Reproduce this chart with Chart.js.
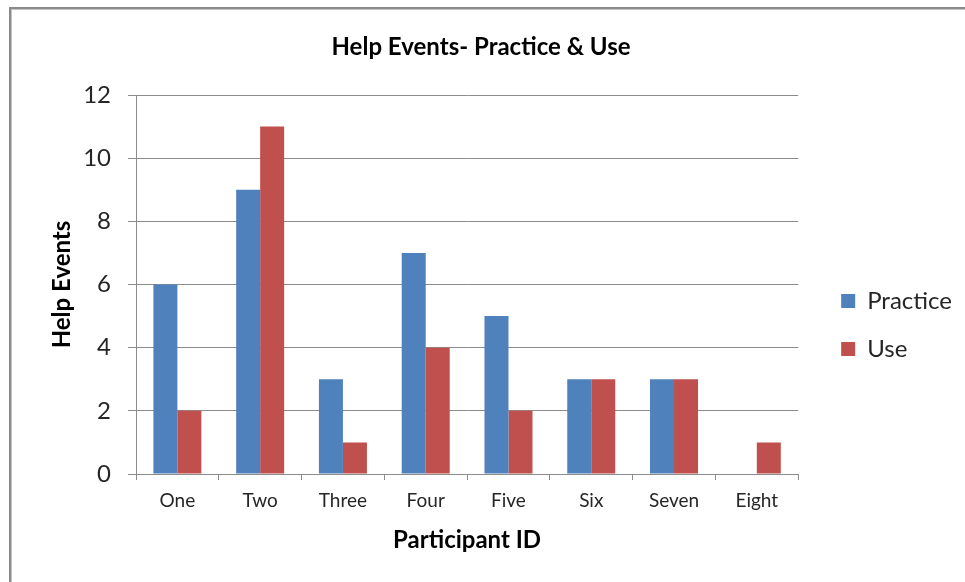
<!DOCTYPE html>
<html>
<head>
<meta charset="utf-8">
<script src="https://cdn.jsdelivr.net/npm/chart.js@4/dist/chart.umd.min.js"></script>
<style>
  html, body { margin: 0; padding: 0; background: #ffffff; overflow: hidden; }
  #wrap { position: relative; width: 965px; height: 582px; }
  #frame {
    position: absolute; left: 9px; top: 7px; width: 1000px; height: 640px;
    border: 2px solid #8a8a8a; box-shadow: inset 1px 1px 0 #c4c4c4;
  }
  #chart { position: absolute; left: 0; top: 0; }
</style>
</head>
<body>
<div id="wrap">
  <div id="frame"></div>
  <canvas id="chart" width="965" height="582"></canvas>
</div>
<script>
// Help events per participant
const categories = ['One', 'Two', 'Three', 'Four', 'Five', 'Six', 'Seven', 'Eight'];
const practiceEvents = [6, 9, 3, 7, 5, 3, 3, 0];
const useEvents = [2, 11, 1, 4, 2, 3, 3, 1];
const yTickValues = [0, 2, 4, 6, 8, 10, 12];

const FONT = 'Lato, "Open Sans", sans-serif';
const GRID = '#8c8c8c';
const TEXT = '#262626';

new Chart(document.getElementById('chart'), {
  type: 'bar',
  data: {
    labels: categories,
    datasets: [
      { label: 'Practice', data: practiceEvents, backgroundColor: '#4F81BD' },
      { label: 'Use', data: useEvents, backgroundColor: '#C0504D' }
    ]
  },
  options: {
    responsive: false,
    animation: false,
    devicePixelRatio: 1,
    layout: { padding: { top: 0, left: 0, right: 3, bottom: 0 } },
    datasets: { bar: { categoryPercentage: 0.58, barPercentage: 1.0 } },
    plugins: {
      tooltip: { enabled: false },
      title: {
        display: true,
        text: 'Help Events- Practice & Use',
        color: '#000000',
        font: { family: FONT, size: 24, weight: 'bold' },
        padding: { top: 32.6, bottom: 33.6 }
      },
      legend: {
        position: 'right',
        align: 'start',
        title: { display: true, text: '', font: { size: 10, lineHeight: 1 }, padding: { top: 255, bottom: 0 } },
        labels: {
          boxWidth: 14,
          boxHeight: 14,
          padding: 24,
          color: TEXT,
          font: { family: FONT, size: 24 }
        }
      }
    },
    scales: {
      x: {
        grid: { display: true, drawOnChartArea: false, drawTicks: true, tickLength: 6, color: GRID, offset: true },
        border: { display: true, color: GRID, width: 1 },
        ticks: { color: TEXT, font: { family: FONT, size: 19 }, padding: 9, maxRotation: 0 },
        title: {
          display: true,
          text: 'Participant ID',
          color: '#000000',
          font: { family: FONT, size: 24, weight: 'bold' },
          padding: { top: 0, bottom: 27.6 }
        },
        afterFit: s => { s.height = 108; }
      },
      y: {
        min: 0,
        max: 12,
        afterBuildTicks: s => { s.ticks = yTickValues.map(v => ({ value: v })); },
        grid: { display: true, drawOnChartArea: true, drawTicks: true, tickLength: 8, color: GRID },
        border: { display: true, color: GRID, width: 1 },
        ticks: { color: TEXT, font: { family: FONT, size: 24 }, padding: 17 },
        title: {
          display: true,
          text: 'Help Events',
          color: '#000000',
          font: { family: FONT, size: 24, weight: 'bold' },
          padding: { top: 47.6, bottom: 0 }
        },
        afterFit: s => { s.width = 136; }
      },
      // spacer between the plot and the legend
      gap: {
        type: 'linear',
        axis: 'y',
        position: 'right',
        display: true,
        grid: { display: false },
        border: { display: false },
        ticks: { display: false },
        afterFit: s => { s.width = 19; }
      }
    }
  }
});
</script>
</body>
</html>
